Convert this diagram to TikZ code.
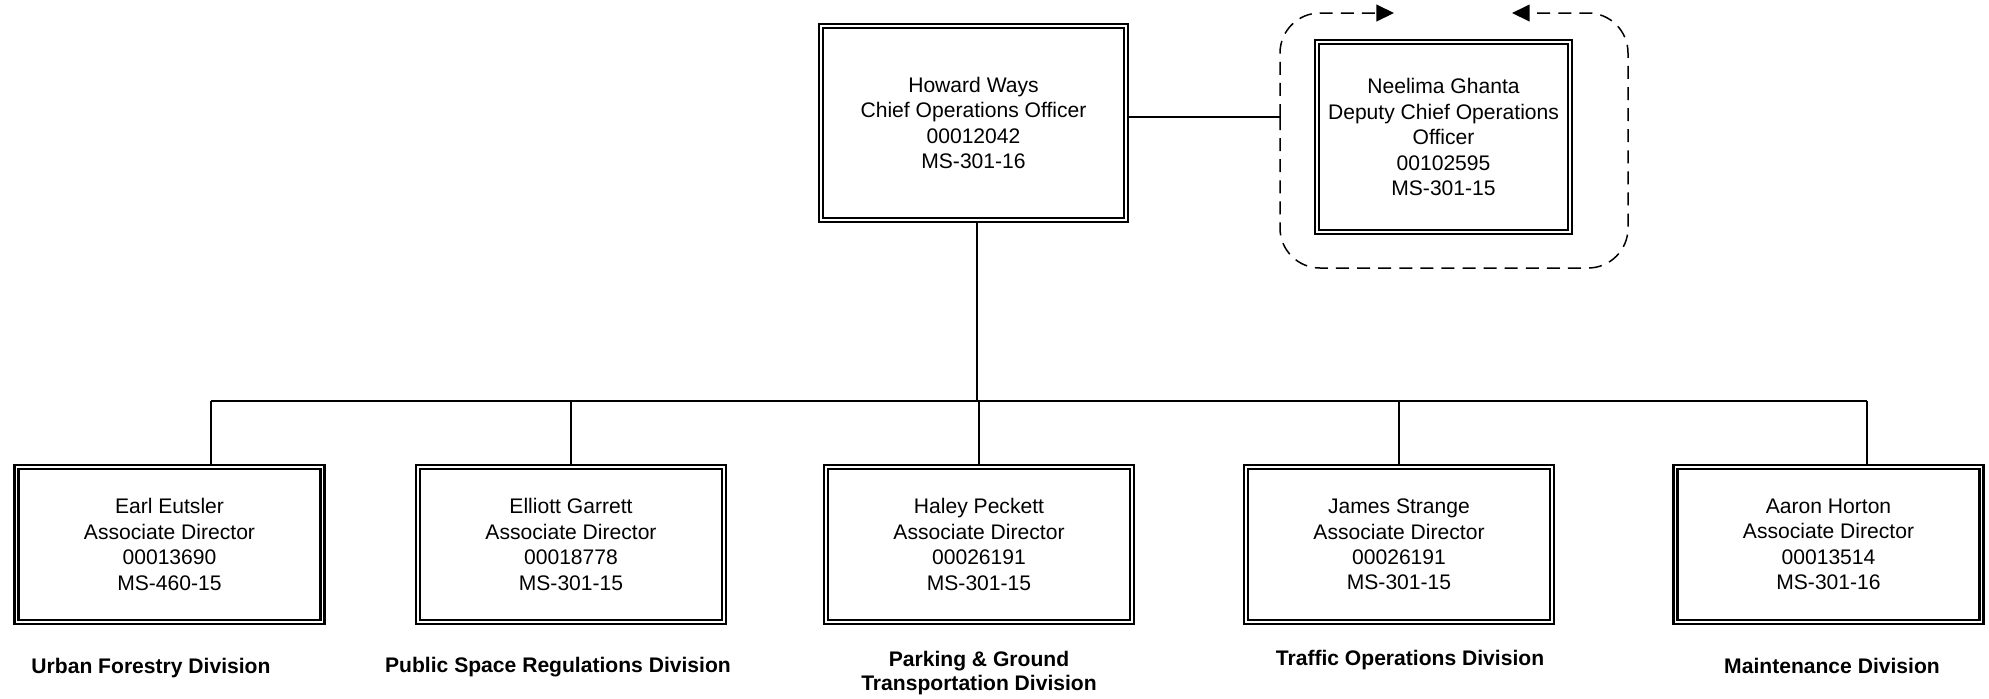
\documentclass[tikz,border=0pt]{standalone}
\usepackage{fontspec}
\setmainfont{Liberation Sans}
\usetikzlibrary{arrows.meta, positioning, calc}
\definecolor{ink}{RGB}{0,0,0}
\tikzset{
  % Officer box, double border
  OB/.style={rectangle,draw=ink,double,line width=1.25pt,double distance=1.1pt,
             minimum width=#1,minimum height=3.1cm,align=center,
             font=\fontsize{12}{14.5}\selectfont,inner sep=2pt,outer sep=1.8pt},
  OB/.default=6.12cm,
  % Division label under a box
  DL/.style={font=\fontsize{12}{13.6}\selectfont\bfseries,align=center,
             inner sep=0pt},
  % Org-chart links
  Lnk/.style ={draw=ink,line width=1.1pt},
  Drop/.style={draw=ink,line width=0.9pt},
  % Dashed loop, arrow at the gap
  DArr/.style={-{Triangle[length=10pt,width=9.5pt]},line width=0.85pt,
               dash pattern=on 7.4pt off 4.6pt,rounded corners=0.8cm,color=ink},
}
\begin{document}
\begin{tikzpicture}
\useasboundingbox (0,0) rectangle (39.78,-13.96);
% ── Top level ─────────────────────────────
\node[OB=6.1cm,minimum height=3.88cm] at (19.47,-2.46) (coo)
{Howard Ways\\Chief Operations Officer\\00012042\\MS-301-16};
\node[OB=5.06cm,minimum height=3.8cm] at (28.87,-2.74) (dcoo)
{Neelima Ghanta\\Deputy Chief Operations\\Officer\\00102595\\MS-301-15};
% dashed loop round the deputy
\coordinate (loopL) at (25.6,-2.34);
\draw[DArr] (loopL) -- (25.6,-0.26) -- (27.88,-0.26);
\draw[DArr] (loopL) -- (25.6,-5.36) -- (32.56,-5.36) -- (32.56,-0.26) -- (30.24,-0.26);
\draw[Lnk] (coo.east |- loopL) -- (loopL);
% ── Associate directors ───────────────────
\node[OB] at (3.39,-10.89)  (ee) {Earl Eutsler\\Associate Director\\00013690\\MS-460-15};
\node[OB] at (11.42,-10.89) (eg) {Elliott Garrett\\Associate Director\\00018778\\MS-301-15};
\node[OB] at (19.58,-10.89) (hp) {Haley Peckett\\Associate Director\\00026191\\MS-301-15};
\node[OB] at (27.98,-10.89) (js) {James Strange\\Associate Director\\00026191\\MS-301-15};
\node[OB] at (36.57,-10.89) (ah) {Aaron Horton\\Associate Director\\00013514\\MS-301-16};
% ── Bus and drops ─────────────────────────
\coordinate (bus) at (0,-8.02);
\coordinate (cooB) at ([xshift=0.07cm]coo.south);
\coordinate (eeT) at ([xshift=0.83cm]ee.north);
\coordinate (ahT) at ([xshift=0.77cm]ah.north);
\draw[Lnk] (cooB) -- (cooB |- bus);
\draw[Lnk] (eeT |- bus) -- (ahT |- bus);
\foreach \n in {eeT,ahT} \draw[Drop] (\n |- bus) -- (\n);
\foreach \n in {eg,hp,js} \draw[Drop] (\n.north |- bus) -- (\n.north);
% ── Division labels ───────────────────────
\node[DL,anchor=base]  at (3.02,-13.46)  (lee) {Urban Forestry Division};
\node[DL,anchor=base]  at (11.16,-13.44) (leg) {Public Space Regulations Division};
\node[DL,anchor=north] at (19.58,-13.02) (lhp) {Parking \& Ground\\Transportation Division};
\node[DL,anchor=base]  at (28.2,-13.3)   (ljs) {Traffic Operations Division};
\node[DL,anchor=base]  at (36.64,-13.46) (lah) {Maintenance Division};
\end{tikzpicture}
\end{document}
